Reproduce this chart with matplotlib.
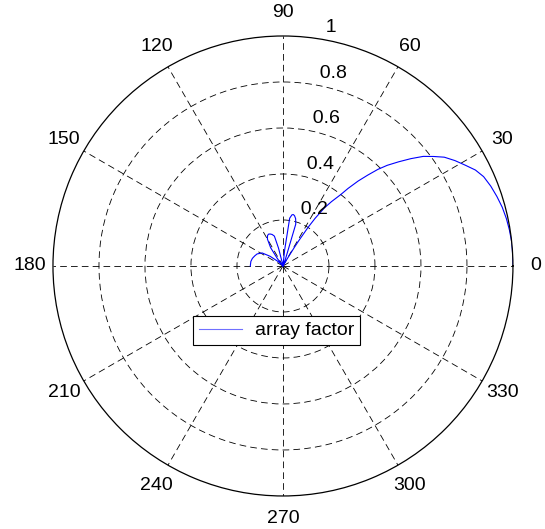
import numpy as np
import matplotlib.pyplot as plt

plt.rcParams['font.family'] = ['Liberation Sans', 'DejaVu Sans']

# array factor (upper half, 0..180 deg)
theta_deg = [0, 3, 6, 9, 12, 15, 18, 21, 24, 26.5, 29, 31.5, 34, 36, 38, 40, 42, 44, 45.5,
             47, 48.5, 50, 51, 53, 54.5, 56, 57, 58, 58.5, 59.3, 60,
             64, 70, 73, 75, 77, 78.5, 80, 82, 84, 87,
             95, 101, 104, 106, 109, 112, 114.5, 117, 120, 124, 127, 130,
             134, 138, 143, 148, 155, 160, 166, 172, 180]
af = [1.0, 1.0, 1.0, 0.997, 0.993, 0.987, 0.978, 0.968, 0.955, 0.935, 0.905, 0.877, 0.846, 0.81, 0.774,
      0.726, 0.677, 0.63, 0.589, 0.54, 0.493, 0.44, 0.40, 0.35, 0.31, 0.25, 0.20, 0.13, 0.095, 0.04, 0.0,
      0.005, 0.03, 0.19, 0.213, 0.224, 0.228, 0.226, 0.21, 0.07, 0.0,
      0.0, 0.01, 0.08, 0.135, 0.145, 0.15, 0.152, 0.148, 0.135, 0.096, 0.04, 0.0,
      0.01, 0.03, 0.07, 0.107, 0.124, 0.13, 0.137, 0.141, 0.142]

ring_vals = [0.2, 0.4, 0.6, 0.8, 1]
angle_ticks = list(range(0, 360, 30))

fig = plt.figure(figsize=(5.45, 5.29), dpi=100)
ax = fig.add_axes([0.0972, 0.0624, 0.844, 0.8696], projection='polar')

line, = ax.plot(np.deg2rad(theta_deg), af, color='#0000ff', lw=0.8, label='array factor')

ax.set_rlim(0, 1)
ax.set_theta_zero_location('E')
ax.set_rgrids(ring_vals[:-1], labels=[])
ax.set_thetagrids(angle_ticks, labels=[])
ax.grid(True, color='k', lw=0.6, linestyle=(0, (8, 5)))
ax.spines['polar'].set_color('k')
ax.spines['polar'].set_linewidth(0.9)

# angle labels at 1.1 r, like matlab polar
for a in angle_ticks:
    ax.text(np.deg2rad(a), 1.1, str(a), ha='center', va='center', fontsize=14, clip_on=False)

# ring labels along the 82 deg line
for r in ring_vals:
    ax.text(np.deg2rad(82), r + 0.01, '  ' + str(r), ha='left', va='bottom', fontsize=14, clip_on=False)

leg = ax.legend(loc='upper left', bbox_to_anchor=(193 / 545, 1 - 316 / 529),
                bbox_transform=fig.transFigure, borderaxespad=0, fontsize=14,
                fancybox=False, framealpha=1, edgecolor='k', handlelength=2.2,
                handletextpad=0.7, borderpad=0.3)
leg.get_frame().set_linewidth(0.8)
leg.get_lines()[0].set_color('#7070ff')

fig.savefig('out.png', dpi=100)
